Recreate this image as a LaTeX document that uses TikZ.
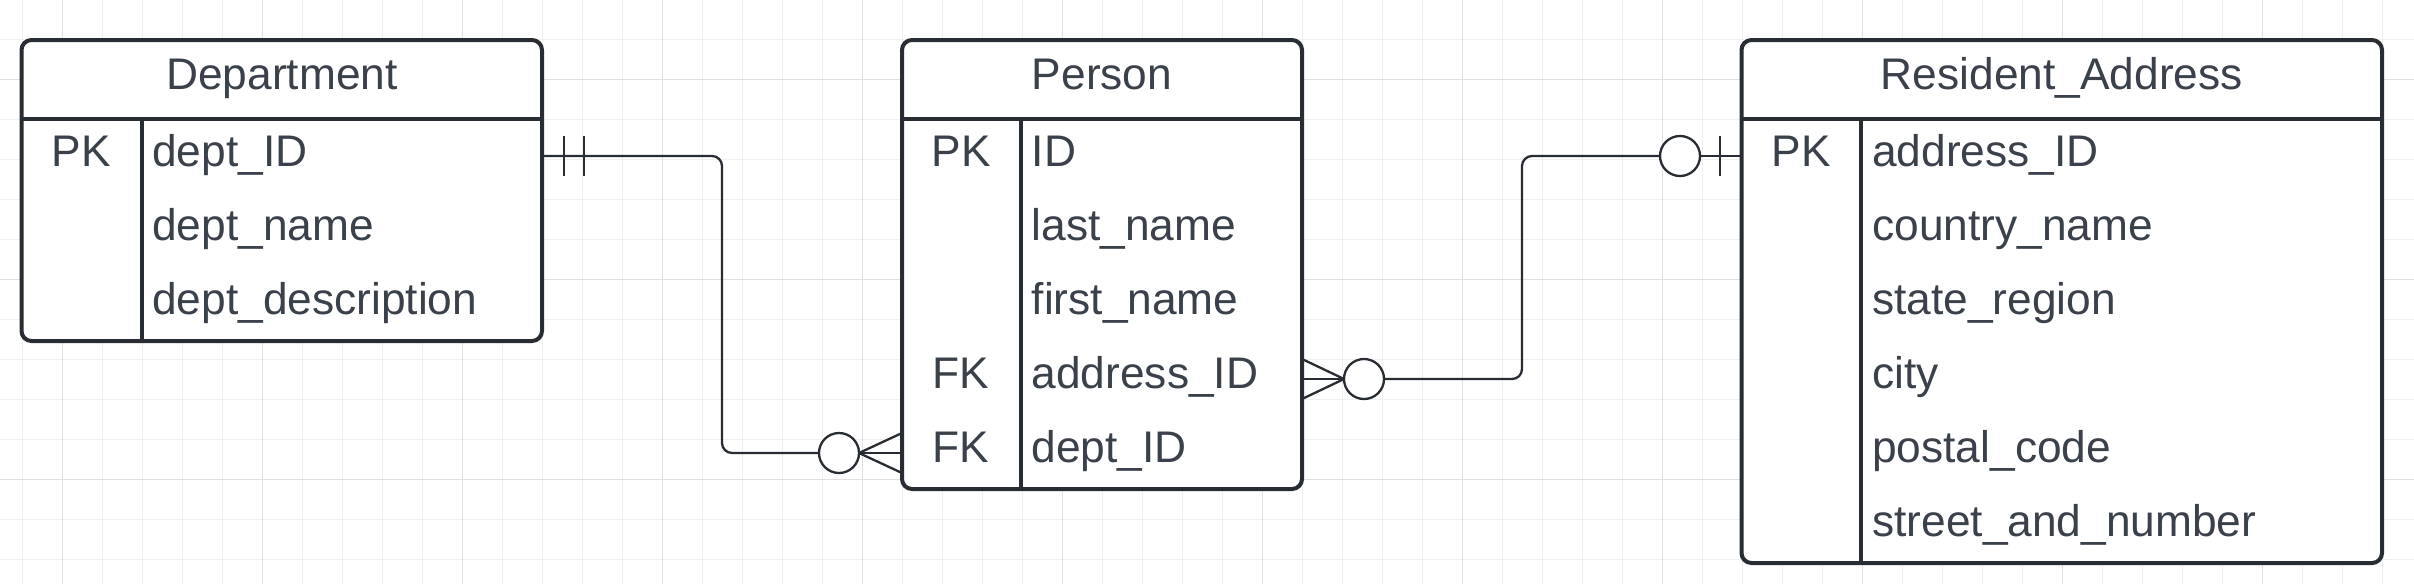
\documentclass[tikz,border=0pt]{standalone}
\usepackage{fontspec}
\setmainfont{Liberation Sans}
\usetikzlibrary{calc}
\definecolor{ink}{HTML}{282C33}
\definecolor{txt}{HTML}{3A414A}
\definecolor{gridminor}{HTML}{F0F0F0}
\definecolor{gridmajor}{HTML}{E0E0E0}
\newcommand\erfont{\fontsize{44.3}{52}\selectfont}
\begin{document}
\begin{tikzpicture}[x=1pt,y=-1pt,
  tbl/.style={draw=ink, line width=4pt, fill=white, rounded corners=10pt, inner sep=0pt, outer sep=0pt, anchor=north west},
  rowslot/.style={inner sep=0pt, outer sep=0pt, minimum height=74pt, anchor=north west},
  ttl/.style={text=txt, font=\erfont, anchor=base, inner sep=0pt},
  keyt/.style={text=txt, font=\erfont, anchor=base, inner sep=0pt},
  fld/.style={text=txt, font=\erfont, anchor=base west, inner sep=0pt},
  sep/.style={draw=ink, line width=4pt},
  conn/.style={draw=ink, line width=2.3pt},
  opt/.style={circle, draw=ink, line width=2.3pt, fill=white, minimum size=40pt, inner sep=0pt, outer sep=0pt},
  gmin/.style={draw=gridminor, line width=1.2pt},
  gmaj/.style={draw=gridmajor, line width=1.4pt}]
\useasboundingbox (0,0) rectangle (2414,584);
\fill[white] (0,0) rectangle (2414,584);
% grid
\foreach \i in {0,...,59}{\pgfmathsetmacro\gx{22.3+40*\i}\draw[gmin] (\gx,0) -- (\gx,584);}
\foreach \j in {1,...,14}{\pgfmathsetmacro\gy{-0.7+40*\j}\draw[gmin] (0,\gy) -- (2414,\gy);}
\foreach \i in {0,...,11}{\pgfmathsetmacro\gx{62.3+200*\i}\draw[gmaj] (\gx,0) -- (\gx,584);}
\foreach \gy in {79.3,279.3,479.3}{\draw[gmaj] (0,\gy) -- (2414,\gy);}

% ---------- Department ----------
\node[tbl, minimum width=520.5pt, minimum height=301pt] (dept) at (21.5,40) {};
\node[rowslot, minimum width=520.5pt] (dr1) at (21.5,119) {};
\node[rowslot, minimum width=520.5pt] (dr2) at (21.5,193) {};
\node[rowslot, minimum width=520.5pt] (dr3) at (21.5,267) {};
\draw[sep] (dept.west |- dr1.north) -- (dept.east |- dr1.north);
\draw[sep] (141.6,0 |- dr1.north) -- (141.6,0 |- dept.south);
\node[ttl] (dtitle) at (282,89) {Department};
\node[keyt] (dk1) at (81.5,166) {PK};
\node[fld] (df1) at (152,166) {dept\_ID};
\node[fld] (df2) at (152,240) {dept\_name};
\node[fld] (df3) at (152,314) {dept\_description};

% ---------- Person ----------
\node[tbl, minimum width=400pt, minimum height=449pt] (pers) at (902,40) {};
\node[rowslot, minimum width=400pt] (pr1) at (902,119) {};
\node[rowslot, minimum width=400pt] (pr2) at (902,193) {};
\node[rowslot, minimum width=400pt] (pr3) at (902,267) {};
\node[rowslot, minimum width=400pt] (pr4) at (902,341) {};
\node[rowslot, minimum width=400pt] (pr5) at (902,415) {};
\draw[sep] (pers.west |- pr1.north) -- (pers.east |- pr1.north);
\draw[sep] (1020.7,0 |- pr1.north) -- (1020.7,0 |- pers.south);
\node[ttl] (ptitle) at (1102,89) {Person};
\node[keyt] (pk1) at (961,166) {PK};
\node[keyt] (pk4) at (961,388) {FK};
\node[keyt] (pk5) at (961,462) {FK};
\node[fld] (pf1) at (1031.5,166) {ID};
\node[fld] (pf2) at (1031.5,240) {last\_name};
\node[fld] (pf3) at (1031.5,314) {first\_name};
\node[fld] (pf4) at (1031.5,388) {address\_ID};
\node[fld] (pf5) at (1031.5,462) {dept\_ID};

% ---------- Resident_Address ----------
\node[tbl, minimum width=640.5pt, minimum height=523pt] (addr) at (1741.5,40) {};
\node[rowslot, minimum width=640.5pt] (ar1) at (1741.5,119) {};
\node[rowslot, minimum width=640.5pt] (ar2) at (1741.5,193) {};
\node[rowslot, minimum width=640.5pt] (ar3) at (1741.5,267) {};
\node[rowslot, minimum width=640.5pt] (ar4) at (1741.5,341) {};
\node[rowslot, minimum width=640.5pt] (ar5) at (1741.5,415) {};
\node[rowslot, minimum width=640.5pt] (ar6) at (1741.5,489) {};
\draw[sep] (addr.west |- ar1.north) -- (addr.east |- ar1.north);
\draw[sep] (1861,0 |- ar1.north) -- (1861,0 |- addr.south);
\node[ttl] (atitle) at (2061.75,89) {Resident\_Address};
\node[keyt] (ak1) at (1801,166) {PK};
\node[fld] (af1) at (1872,166) {address\_ID};
\node[fld] (af2) at (1872,240) {country\_name};
\node[fld] (af3) at (1872,314) {state\_region};
\node[fld] (af4) at (1872,388) {city};
\node[fld] (af5) at (1872,462) {postal\_code};
\node[fld] (af6) at (1872,536) {street\_and\_number};

% ---------- Department 1 -- 0..* Person ----------
\node[opt] (c1) at (839,453) {};
\coordinate (bend1) at (722,453);
\draw[conn, rounded corners=10pt] (dr1.east) -| (bend1) -- (c1.west);
\draw[conn] ($(dr1.east)+(22,-20)$) -- ++(0,40);
\draw[conn] ($(dr1.east)+(42,-20)$) -- ++(0,40);
\draw[conn] (c1.east) -- (pr5.west |- c1.east);
\draw[conn] (c1.east) -- ($(pr5.west |- c1.east)+(0,-20)$);
\draw[conn] (c1.east) -- ($(pr5.west |- c1.east)+(0,20)$);

% ---------- Person 0..* -- 0..1 Resident_Address ----------
\node[opt] (c2) at (1364,379) {};
\node[opt] (c3) at (1680,156) {};
\coordinate (bend2) at (1522,156);
\draw[conn] (pr4.east |- c2.west) -- (c2.west);
\draw[conn] ($(pr4.east |- c2.west)+(0,-20)$) -- (c2.west);
\draw[conn] ($(pr4.east |- c2.west)+(0,20)$) -- (c2.west);
\draw[conn, rounded corners=10pt] (c2.east) -| (bend2) -- (c3.west);
\draw[conn] (c3.east) -- (ar1.west);
\draw[conn] ($(ar1.west)+(-21.5,-20)$) -- ++(0,40);
\end{tikzpicture}
\end{document}
